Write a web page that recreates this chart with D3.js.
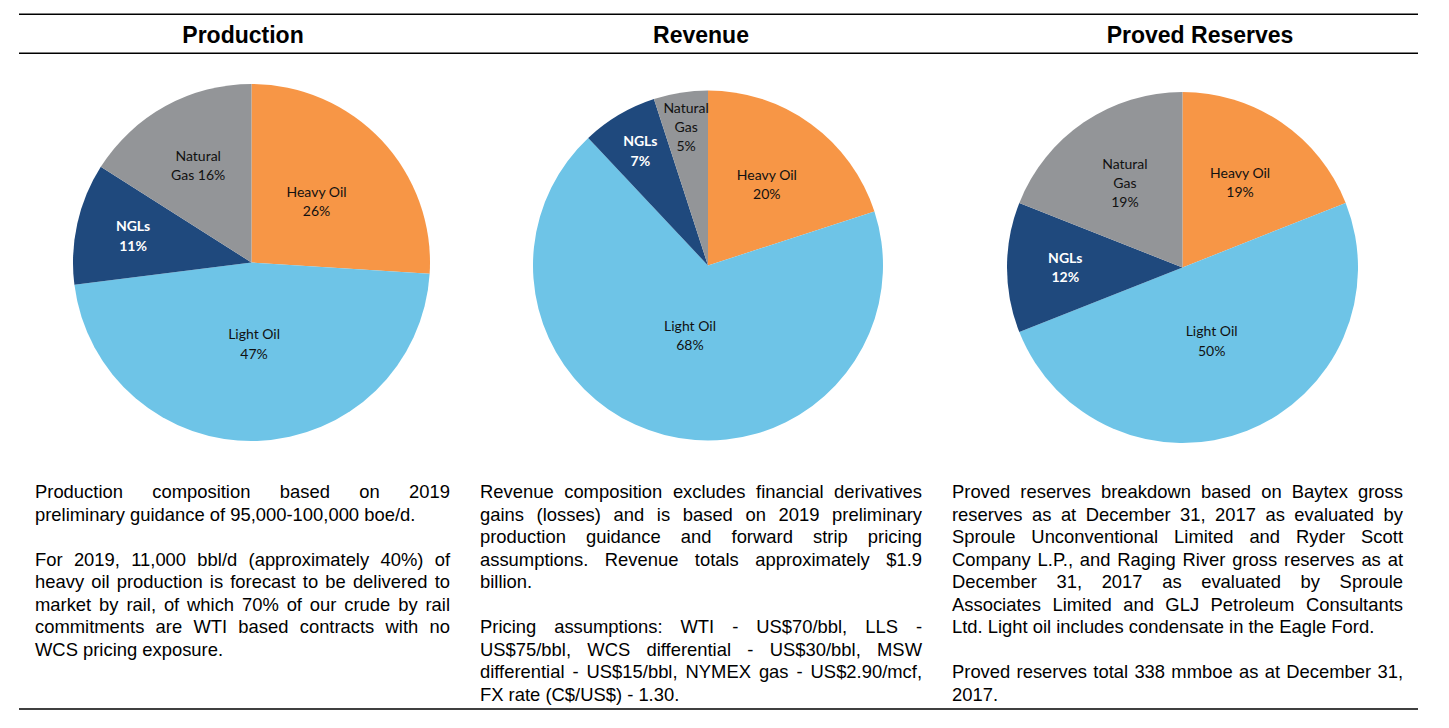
<!DOCTYPE html>
<html><head><meta charset="utf-8">
<script src="https://cdn.jsdelivr.net/npm/d3@7"></script>
<style>body{margin:0;background:#fff}svg{display:block}</style>
</head><body><svg id="c" width="1449" height="728"></svg>
<script>
// ---------- data ----------
const categories = ["Heavy Oil", "Light Oil", "NGLs", "Natural Gas"];
const productionValues = [26, 47, 11, 16];
const revenueValues = [20, 68, 7, 5];
const reservesValues = [19, 50, 12, 19];
const chartTitles = ["Production", "Revenue", "Proved Reserves"];

const productionNotes = [
  ["Production composition based on 2019",
   "preliminary guidance of 95,000-100,000 boe/d."],
  ["For 2019, 11,000 bbl/d (approximately 40%) of",
   "heavy oil production is forecast to be delivered to",
   "market by rail, of which 70% of our crude by rail",
   "commitments are WTI based contracts with no",
   "WCS pricing exposure."]
];
const revenueNotes = [
  ["Revenue composition excludes financial derivatives",
   "gains (losses) and is based on 2019 preliminary",
   "production guidance and forward strip pricing",
   "assumptions. Revenue totals approximately $1.9",
   "billion."],
  ["Pricing assumptions:  WTI - US$70/bbl, LLS -",
   "US$75/bbl, WCS differential - US$30/bbl, MSW",
   "differential - US$15/bbl, NYMEX gas - US$2.90/mcf,",
   "FX rate (C$/US$) - 1.30."]
];
const reservesNotes = [
  ["Proved reserves breakdown based on Baytex gross",
   "reserves as at December 31, 2017 as evaluated by",
   "Sproule Unconventional Limited and Ryder Scott",
   "Company L.P., and Raging River gross reserves as at",
   "December 31, 2017 as evaluated by Sproule",
   "Associates Limited and GLJ Petroleum Consultants",
   "Ltd. Light oil includes condensate in the Eagle Ford."],
  ["Proved reserves total 338 mmboe as at December 31,",
   "2017."]
];

// ---------- layout / style ----------
const svg = d3.select("#c");
const color = d3.scaleOrdinal(categories, ["#F79646", "#6EC4E7", "#1F497D", "#939598"]);
const sansFont = "'Liberation Sans', Arial, Helvetica, sans-serif";
const labelFont = "Lato, 'Open Sans', sans-serif";

const panels = [
  {title: chartTitles[0], values: productionValues, notes: productionNotes,
   titleX: 243, cx: 251.5, cy: 262.5, r: 178.5, x0: 35, x1: 450},
  {title: chartTitles[1], values: revenueValues, notes: revenueNotes,
   titleX: 701, cx: 708, cy: 265.5, r: 175, x0: 480, x1: 922},
  {title: chartTitles[2], values: reservesValues, notes: reservesNotes,
   titleX: 1200, cx: 1182.5, cy: 267.5, r: 175.5, x0: 952, x1: 1403}
];

// rules
[14.3, 53.3, 709].forEach(y => {
  svg.append("line").attr("x1", 19).attr("x2", 1418).attr("y1", y).attr("y2", y)
    .attr("stroke", "#000").attr("stroke-width", 1.4);
});

const pie = d3.pie().sort(null).value(d => d.value);
const labelRadius = d3.scaleLinear().domain([5, 11, 26, 70]).range([0.8, 0.68, 0.5, 0.41]).clamp(true);

function labelLines(cat, v, i) {
  if (cat === "Natural Gas") return i === 0 ? ["Natural", "Gas " + v + "%"] : ["Natural", "Gas", v + "%"];
  return [cat, v + "%"];
}

// measuring helper
const meas = svg.append("text").attr("font-family", sansFont).attr("font-size", 18.4)
  .attr("x", -1000).attr("y", -1000);
function textW(s) { meas.text(s); return meas.node().getComputedTextLength(); }

panels.forEach((p, i) => {
  // title
  svg.append("text").attr("x", p.titleX).attr("y", 43).attr("text-anchor", "middle")
    .attr("font-family", sansFont).attr("font-weight", "bold").attr("font-size", 23)
    .attr("fill", "#000").text(p.title);

  const data = categories.map((c, k) => ({cat: c, value: p.values[k]}));
  const arcs = pie(data);
  const g = svg.append("g").attr("transform", `translate(${p.cx},${p.cy})`);
  const arc = d3.arc().innerRadius(0).outerRadius(p.r);
  g.selectAll("path.slice").data(arcs).join("path").attr("class", "slice")
    .attr("d", arc).attr("fill", d => color(d.data.cat));

  const lh = 19.2;
  arcs.forEach(a => {
    const rl = labelRadius(a.data.value) * p.r;
    const [lx, ly] = d3.arc().innerRadius(rl).outerRadius(rl).centroid(a);
    const lines = labelLines(a.data.cat, a.data.value, i);
    const isNGL = a.data.cat === "NGLs";
    const t = g.append("text").attr("text-anchor", "middle")
      .attr("font-family", labelFont).attr("font-size", 14)
      .attr("font-weight", isNGL ? "bold" : "normal")
      .attr("fill", isNGL ? "#fff" : "#111");
    const y0 = ly - (lines.length - 1) * lh / 2 + 5;
    lines.forEach((s, j) => t.append("tspan").attr("x", lx).attr("y", y0 + j * lh).text(s));
  });

  // notes, justified
  const step = 22.55;
  let row = 0;
  const W = p.x1 - p.x0;
  p.notes.forEach((para, pi) => {
    para.forEach((line, li) => {
      const y = 498 + row * step;
      const t = svg.append("text").attr("font-family", sansFont).attr("font-size", 18.4)
        .attr("fill", "#000").attr("y", y);
      const last = li === para.length - 1;
      if (last) {
        t.attr("x", p.x0).text(line);
      } else {
        const words = line.split(/\s+/);
        const ws = words.map(textW);
        const gap = (W - d3.sum(ws)) / (words.length - 1);
        let x = p.x0;
        words.forEach((w, k) => {
          t.append("tspan").attr("x", x).text(w + (k < words.length - 1 ? " " : ""));
          x += ws[k] + gap;
        });
      }
      row++;
    });
    row++; // blank line between paragraphs
  });
});
meas.remove();
</script>
</body></html>
